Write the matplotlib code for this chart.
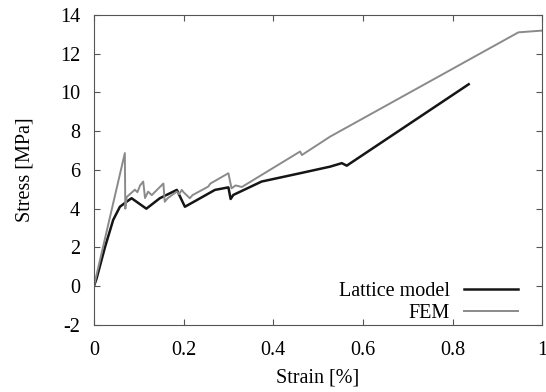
import numpy as np
import matplotlib.pyplot as plt

# Lattice model curve (strain %, stress MPa)
lat_x = [0.0, 0.006, 0.025, 0.043, 0.058, 0.073, 0.084, 0.117, 0.147, 0.185, 0.203,
         0.237, 0.27, 0.30, 0.305, 0.311, 0.374, 0.46, 0.527, 0.553, 0.564, 0.836]
lat_y = [0.0, 0.4, 2.04, 3.42, 4.1, 4.36, 4.54, 4.0, 4.54, 4.97, 4.1,
         4.54, 4.97, 5.1, 4.5, 4.71, 5.4, 5.83, 6.17, 6.35, 6.22, 10.42]

# FEM curve
fem_x = [0.0, 0.069, 0.070, 0.073, 0.0915, 0.097, 0.103, 0.110, 0.114, 0.121, 0.129,
         0.155, 0.158, 0.165, 0.185, 0.19, 0.196, 0.20, 0.214, 0.22, 0.255, 0.26,
         0.30, 0.307, 0.316, 0.33, 0.46, 0.464, 0.527, 0.947, 1.0]
fem_y = [0.0, 6.87, 4.0, 4.6, 4.98, 4.85, 5.2, 5.4, 4.55, 4.88, 4.7,
         5.3, 4.36, 4.55, 4.88, 4.75, 4.97, 4.85, 4.54, 4.7, 5.14, 5.3,
         5.83, 5.05, 5.2, 5.12, 6.95, 6.77, 7.72, 13.1, 13.19]

plt.rcParams['font.family'] = ['Liberation Serif', 'DejaVu Serif']
plt.rcParams['font.size'] = 14.5
plt.rcParams['axes.unicode_minus'] = False

fig = plt.figure(figsize=(5.46, 3.92), dpi=100)
ax = fig.add_axes([0.172, 0.171, 0.821, 0.791])

ax.plot(lat_x, lat_y, color='#151515', lw=1.8, label='Lattice model')
ax.plot(fem_x, fem_y, color='#8a8a8a', lw=1.4, label='FEM')

ax.set_xlim(0, 1)
ax.set_ylim(-2, 14)
ax.set_xticks([0, 0.2, 0.4, 0.6, 0.8, 1])
ax.set_xticklabels(['0', '0.2', '0.4', '0.6', '0.8', '1'])
ax.set_yticks(range(-2, 15, 2))
ax.tick_params(direction='in', top=True, right=True, length=4, color='#555555')
ax.tick_params(axis='x', pad=11.5)
ax.tick_params(axis='y', pad=10)
for s in ax.spines.values():
    s.set_color('#555555')

ax.set_xlabel('Strain [%]')
ax.set_ylabel('Stress [MPa]')
ax.xaxis.set_label_coords(0.5, -0.142)
ax.yaxis.set_label_coords(-0.133, 0.5)

ax.legend(loc='lower right', bbox_to_anchor=(0.978, -0.039), frameon=False,
          markerfirst=False, handlelength=2.7, labelspacing=0.12,
          borderaxespad=0.3, handletextpad=0.7)

fig.savefig('out.png', dpi=100)
